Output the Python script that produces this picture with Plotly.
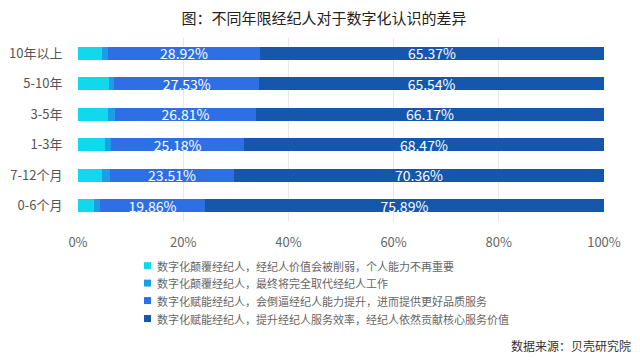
import plotly.graph_objects as go

categories = ["10年以上", "5-10年", "3-5年", "1-3年", "7-12个月", "0-6个月"]
series_names = [
    "数字化颠覆经纪人，经纪人价值会被削弱，个人能力不再重要",
    "数字化颠覆经纪人，最终将完全取代经纪人工作",
    "数字化赋能经纪人，会倒逼经纪人能力提升，进而提供更好品质服务",
    "数字化赋能经纪人，提升经纪人服务效率，经纪人依然贡献核心服务价值",
]
s1 = [4.50, 5.80, 5.70, 5.20, 4.60, 3.10]
s2 = [1.21, 1.13, 1.32, 1.15, 1.53, 1.15]
s3 = [28.92, 27.53, 26.81, 25.18, 23.51, 19.86]
s4 = [65.37, 65.54, 66.17, 68.47, 70.36, 75.89]
series_values = [s1, s2, s3, s4]
show_labels = [False, False, True, True]
colors = ["#12D8EE", "#1B9EE6", "#2F6FE6", "#1557AC"]
x_ticks = [0, 20, 40, 60, 80, 100]
x_tick_labels = ["0%", "20%", "40%", "60%", "80%", "100%"]

FONT = "Noto Sans CJK SC"
OFF = 8  # page body margin offset
W, H = 640 - OFF, 360 - OFF
L = 78 - OFF
R = W - (604 - OFF)
T = 38 - OFF
B = H - (221.3 - OFF)
PW, PH = W - L - R, H - T - B


def px(x):
    return (x - OFF - L) / PW


def py(y):
    return (H - B - (y - OFF)) / PH


fig = go.Figure()
for name, vals, col, lab in zip(series_names, series_values, colors, show_labels):
    fig.add_trace(go.Bar(
        y=categories, x=vals, name=name, orientation="h",
        marker=dict(color=col, line=dict(width=0)),
        text=[f"{v:.2f}%" for v in vals] if lab else None,
        textposition="inside" if lab else "none", insidetextanchor="middle",
        textfont=dict(color="white", size=14, family=FONT),
        hoverinfo="skip", showlegend=False,
    ))

fig.update_layout(
    width=W, height=H,
    barmode="stack", bargap=0.57,
    paper_bgcolor="white", plot_bgcolor="white",
    margin=dict(l=L, r=R, t=T, b=B),
    font=dict(family=FONT, color="#595959", size=12),
    uniformtext=dict(minsize=14, mode="show"),
    title=dict(text="图：不同年限经纪人对于数字化认识的差异", x=0.5, xanchor="center",
               y=1 - (19 - OFF) / H, yanchor="middle",
               font=dict(size=15, color="#222222", family=FONT)),
    xaxis=dict(range=[0, 100], tickvals=x_ticks, ticktext=x_tick_labels,
               showgrid=True, gridcolor="#E8E8E8", gridwidth=1, zeroline=False,
               tickfont=dict(size=13, color="#666666"), ticks="outside", ticklen=9,
               tickcolor="rgba(0,0,0,0)", automargin=False, showline=False),
    yaxis=dict(autorange="reversed", tickfont=dict(size=13, color="#555555"),
               ticks="outside", ticklen=12, tickcolor="rgba(0,0,0,0)",
               showgrid=False, automargin=False),
    showlegend=False,
)

# legend drawn as square markers + texts
legend_y = [266, 283.5, 301, 319]
for name, col, ly in zip(series_names, colors, legend_y):
    fig.add_shape(type="rect", xref="paper", yref="paper",
                  x0=px(144), x1=px(151), y0=py(ly + 3.5), y1=py(ly - 3.5),
                  fillcolor=col, line=dict(width=0))
    fig.add_annotation(text=name, xref="paper", yref="paper", x=px(155), y=py(ly),
                       xanchor="left", yanchor="middle", showarrow=False,
                       font=dict(size=11, color="#666666", family=FONT))

fig.add_annotation(text="数据来源：贝壳研究院", xref="paper", yref="paper",
                   x=px(633), y=py(346), xanchor="right", yanchor="middle", showarrow=False,
                   font=dict(size=12, color="#333333", family=FONT))
fig.write_html("out.html")
